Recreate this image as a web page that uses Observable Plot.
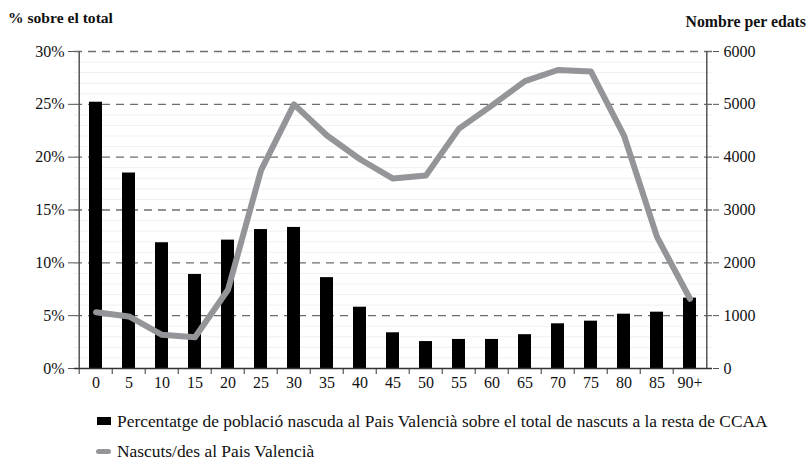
<!DOCTYPE html>
<html>
<head>
<meta charset="utf-8">
<script src="https://cdn.jsdelivr.net/npm/d3@7"></script>
<script src="https://cdn.jsdelivr.net/npm/@observablehq/plot@0.6"></script>
</head>
<body style="margin:0;padding:0;background:#fff;">
<div id="wrap" style="position:relative;width:807px;height:462px;font-family:'Liberation Serif';color:#111;">
  <div style="position:absolute;left:8px;top:9px;font-family:'Liberation Serif';font-weight:bold;font-size:15.6px;white-space:nowrap;">% sobre el total</div>
  <div style="position:absolute;right:1px;top:13px;font-family:'Liberation Serif';font-weight:bold;font-size:15.8px;white-space:nowrap;">Nombre per edats</div>
  <div id="chart" style="position:absolute;left:0;top:0;"></div>
  <div style="position:absolute;left:97px;top:410px;height:22px;font-family:'Liberation Serif';font-size:17.4px;white-space:nowrap;display:flex;align-items:center;"><span style="display:inline-block;width:14px;height:8px;background:#000;margin-right:6px;"></span>Percentatge de població nascuda al Pais Valencià sobre el total de nascuts a la resta de CCAA</div>
  <div style="position:absolute;left:96px;top:440px;height:22px;font-family:'Liberation Serif';font-size:17.4px;white-space:nowrap;display:flex;align-items:center;"><span style="display:inline-block;width:15px;height:5px;background:#939598;border-radius:3px;margin-right:6px;"></span>Nascuts/des al Pais Valencià</div>
</div>
<script>
const ages = ["0","5","10","15","20","25","30","35","40","45","50","55","60","65","70","75","80","85","90+"];
const pctValues = [25.2,18.5,11.9,8.9,12.15,13.15,13.35,8.6,5.8,3.38,2.55,2.75,2.75,3.2,4.23,4.48,5.14,5.33,6.66];
const birthValues = [1066,985,638,593,1490,3750,5000,4410,3960,3595,3655,4540,4980,5440,5650,5620,4410,2490,1320];
const pctTicks = [0,5,10,15,20,25,30];
const countTicks = [0,1000,2000,3000,4000,5000,6000];
const minorPct = d3.range(1, 30).filter(v => v % 5 !== 0);

const data = ages.map((a, i) => ({age: a, pct: pctValues[i], births: birthValues[i]}));
const ratio = 6000 / 30;

const width = 807, height = 400, mL = 74, mR = 95;
const step = (width - mL - mR) / ages.length;

const chart = Plot.plot({
  width, height,
  marginLeft: mL, marginRight: mR, marginTop: 51, marginBottom: 32,
  style: { fontSize: "16px", color: "#111", background: "transparent" },
  x: { domain: ages, type: "band", paddingInner: 0.6, paddingOuter: 0.3, label: null },
  y: { domain: [0, 30], label: null },
  marks: [
    Plot.ruleY(minorPct, { stroke: "#f0f0f0", strokeWidth: 1 }),
    Plot.ruleY(pctTicks.filter(v => v > 0), { stroke: "#6d6d6d", strokeWidth: 1.3, strokeDasharray: "8,6" }),
    Plot.barY(data, { x: "age", y: "pct", fill: "#000" }),
    Plot.line(data, { x: "age", y: d => d.births / ratio, stroke: "#939598", strokeWidth: 6, strokeLinejoin: "round", strokeLinecap: "round" }),
    Plot.ruleY([0], { stroke: "#333", strokeWidth: 1.3 }),
    Plot.ruleX([ages[0]], { dx: -step / 2, stroke: "#555", strokeWidth: 1.5 }),
    Plot.ruleX([ages[ages.length - 1]], { dx: step / 2, stroke: "#555", strokeWidth: 1.5 }),
    Plot.axisX({ tickSize: 0, tickPadding: 8, fill: "#111" }),
    Plot.axisX({ tickSize: 6, dx: -step / 2, tickFormat: () => "", stroke: "#333" }),
    Plot.axisY(pctTicks, { anchor: "left", tickSize: 6, tickPadding: 4, tickFormat: d => d + "%", stroke: "#555", fill: "#111" }),
    Plot.axisY(countTicks.map(v => v / ratio), { anchor: "right", tickSize: 6, tickPadding: 5, tickFormat: d => String(Math.round(d * ratio)), stroke: "#555", fill: "#111" })
  ]
});
chart.setAttribute("font-family", "Liberation Serif");
chart.style.fontFamily = "'Liberation Serif'";
d3.select(chart).selectAll("text").attr("font-family", "Liberation Serif").style("font-family", "'Liberation Serif'");
document.getElementById("chart").appendChild(chart);
</script>
</body>
</html>
